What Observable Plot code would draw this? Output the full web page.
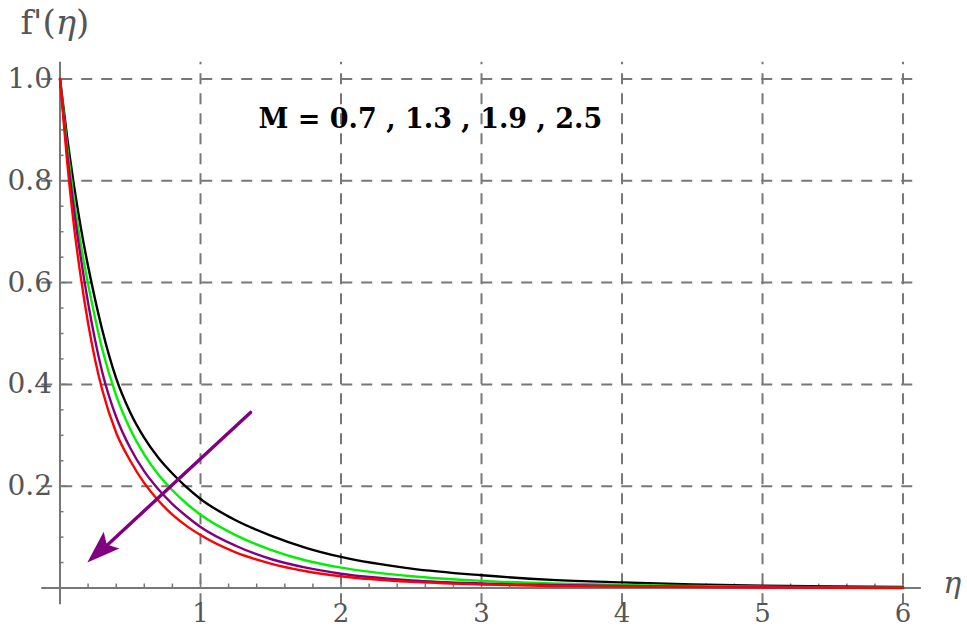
<!DOCTYPE html>
<html><head><meta charset="utf-8">
<script src="https://cdn.jsdelivr.net/npm/d3@7"></script>
<script src="https://cdn.jsdelivr.net/npm/@observablehq/plot@0.6"></script>
<style>
html,body{margin:0;padding:0;background:#fff;}
#chart{width:967px;height:630px;}
</style></head><body><div id="chart"></div>
<script>
// ---- data ----
const eta   = [0, 0.05, 0.1, 0.15, 0.2, 0.25, 0.3, 0.4, 0.5, 0.6, 0.7, 0.8, 0.9, 1.0, 1.25, 1.5, 1.75, 2.0, 2.5, 3.0, 3.5, 4.0, 4.5, 5.0, 5.5, 6.0];
const fM07  = [1, 0.887, 0.79, 0.705, 0.632, 0.567, 0.508, 0.412, 0.345, 0.295, 0.256, 0.225, 0.198, 0.175, 0.133, 0.103, 0.079, 0.061, 0.038, 0.025, 0.016, 0.011, 0.007, 0.0045, 0.003, 0.002];
const fM13  = [1, 0.87, 0.762, 0.672, 0.597, 0.53, 0.47, 0.378, 0.312, 0.262, 0.223, 0.192, 0.166, 0.144, 0.104, 0.075, 0.054, 0.04, 0.023, 0.014, 0.009, 0.006, 0.004, 0.0025, 0.0015, 0.001];
const fM19  = [1, 0.857, 0.742, 0.645, 0.56, 0.487, 0.425, 0.336, 0.275, 0.229, 0.194, 0.165, 0.141, 0.12, 0.083, 0.057, 0.04, 0.028, 0.015, 0.009, 0.006, 0.004, 0.0025, 0.0015, 0.001, 0.0005];
const fM25  = [1, 0.84, 0.71, 0.607, 0.52, 0.448, 0.39, 0.305, 0.25, 0.206, 0.172, 0.144, 0.122, 0.104, 0.07, 0.048, 0.033, 0.023, 0.012, 0.007, 0.004, 0.003, 0.002, 0.001, 0.0005, 0];
const seriesNames  = ["M = 0.7", "M = 1.3", "M = 1.9", "M = 2.5"];
const seriesColors = ["#000000", "#00f000", "#800080", "#ff0000"];
const xMajorTicks  = [1, 2, 3, 4, 5, 6];
const xTickLabels  = ["1", "2", "3", "4", "5", "6"];
const xMinorTicks  = [0.2,0.4,0.6,0.8,1.2,1.4,1.6,1.8,2.2,2.4,2.6,2.8,3.2,3.4,3.6,3.8,4.2,4.4,4.6,4.8,5.2,5.4,5.6,5.8];
const yMajorTicks  = [0.2, 0.4, 0.6, 0.8, 1.0];
const yTickLabels  = ["0.2", "0.4", "0.6", "0.8", "1.0"];
const yMinorTicks  = [0.05,0.1,0.15,0.25,0.3,0.35,0.45,0.5,0.55,0.65,0.7,0.75,0.85,0.9,0.95];
const xRange = [-0.13, 6.13];
const yRange = [-0.033, 1.033];
const arrowFrom = [1.356, 0.345];
const arrowTo   = [0.198, 0.049];
const annotation = "M = 0.7 , 1.3 , 1.9 , 2.5";
const yLabelParts = ["f'(", "\u03b7", ")"];
const xLabel = "\u03b7";

// ---- table for the library ----
const seriesValues = [fM07, fM13, fM19, fM25];
const rows = seriesNames.flatMap((name, s) => eta.map((e, i) => ({eta: e, f: seriesValues[s][i], M: name})));

const serif = "'DejaVu Serif', serif";
const gridColor = "#777777";
const tickColor = "#555555";
const titleSize = 34;

// measure label parts for the y axis title
const ctx = document.createElement("canvas").getContext("2d");
ctx.font = `${titleSize}px 'DejaVu Serif'`;
const w0 = ctx.measureText(yLabelParts[0]).width;
ctx.font = `italic ${titleSize}px 'DejaVu Serif'`;
const w1 = ctx.measureText(yLabelParts[1]).width;

function arrowHead(index, scales) {
  const x0 = scales.x(arrowFrom[0]), y0 = scales.y(arrowFrom[1]);
  const x1 = scales.x(arrowTo[0]),   y1 = scales.y(arrowTo[1]);
  const a = Math.atan2(y1 - y0, x1 - x0);
  const L = 33, W = 11.5, N = 0.8;
  const ca = Math.cos(a), sa = Math.sin(a);
  const bx = x1 - L * ca, by = y1 - L * sa;
  const nx = x1 - N * L * ca, ny = y1 - N * L * sa;
  const px = -sa * W, py = ca * W;
  return d3.create("svg:path")
    .attr("d", `M${x1},${y1}L${bx + px},${by + py}L${nx},${ny}L${bx - px},${by - py}Z`)
    .attr("fill", "#800080")
    .node();
}

const chart = Plot.plot({
  width: 967,
  height: 630,
  marginLeft: 59.5,
  marginRight: 46.2,
  marginTop: 61.7,
  marginBottom: 42.5,
  x: {domain: [0, xRange[1]], label: null},
  y: {domain: [0, yRange[1]], label: null},
  color: {domain: seriesNames, range: seriesColors},
  marks: [
    // dashed grid
    Plot.ruleX(xMajorTicks, {x: d => d, y1: yRange[0], y2: yRange[1], stroke: gridColor, strokeWidth: 2, strokeDasharray: "11,9"}),
    Plot.ruleY(yMajorTicks, {y: d => d, x1: xRange[0], x2: xRange[1], stroke: gridColor, strokeWidth: 2, strokeDasharray: "11,9"}),
    // axes lines
    Plot.ruleY([0], {x1: xRange[0], x2: xRange[1], stroke: gridColor, strokeWidth: 2}),
    Plot.ruleX([0], {y1: yRange[0], y2: yRange[1], stroke: gridColor, strokeWidth: 2}),
    // ticks
    Plot.axisX(xMajorTicks, {tickSize: -7, tickFormat: () => "", stroke: gridColor, strokeWidth: 1.5, label: null}),
    Plot.axisX(xMinorTicks, {tickSize: -4, tickFormat: () => "", stroke: gridColor, strokeWidth: 1.5, label: null}),
    Plot.axisY(yMajorTicks, {tickSize: -7, tickFormat: () => "", stroke: gridColor, strokeWidth: 1.5, label: null}),
    Plot.axisY(yMinorTicks, {tickSize: -4, tickFormat: () => "", stroke: gridColor, strokeWidth: 1.5, label: null}),
    // tick labels
    Plot.text(xMajorTicks, {x: d => d, y: 0, text: (d, i) => xTickLabels[i], dy: 16, lineAnchor: "top", fontFamily: serif, fontSize: 26, fill: tickColor}),
    Plot.text(yMajorTicks, {x: 0, y: d => d, text: (d, i) => yTickLabels[i], dx: -8, textAnchor: "end", lineAnchor: "middle", fontFamily: serif, fontSize: 28, fill: tickColor}),
    // curves
    Plot.line(rows, {x: "eta", y: "f", stroke: "M", z: "M", curve: "monotone-x", strokeWidth: 2.4}),
    // arrow
    Plot.arrow([0], {x1: arrowFrom[0], y1: arrowFrom[1], x2: arrowTo[0], y2: arrowTo[1], stroke: "#800080", strokeWidth: 3.4, headLength: 0, insetEnd: 16}),
    arrowHead,
    // annotation
    Plot.text([annotation], {frameAnchor: "top-left", text: d => d, dx: 198.5, dy: 56.7, textAnchor: "start", lineAnchor: "middle", fontFamily: serif, fontWeight: "bold", fontSize: 27, fill: "#000"}),
    // axis titles
    Plot.text([yLabelParts[0]], {frameAnchor: "top-left", text: d => d, dx: -39.5, dy: -38.6, textAnchor: "start", lineAnchor: "middle", fontFamily: serif, fontSize: titleSize, fill: tickColor}),
    Plot.text([yLabelParts[1]], {frameAnchor: "top-left", text: d => d, dx: -39.5 + w0, dy: -38.6, textAnchor: "start", lineAnchor: "middle", fontFamily: serif, fontStyle: "italic", fontSize: titleSize, fill: tickColor}),
    Plot.text([yLabelParts[2]], {frameAnchor: "top-left", text: d => d, dx: -39.5 + w0 + w1, dy: -38.6, textAnchor: "start", lineAnchor: "middle", fontFamily: serif, fontSize: titleSize, fill: tickColor}),
    Plot.text([xLabel], {frameAnchor: "bottom-right", text: d => d, dx: 22, dy: -5, textAnchor: "start", lineAnchor: "middle", fontFamily: serif, fontStyle: "italic", fontSize: 30, fill: tickColor})
  ]
});
document.getElementById("chart").appendChild(chart);
</script>
</body></html>
